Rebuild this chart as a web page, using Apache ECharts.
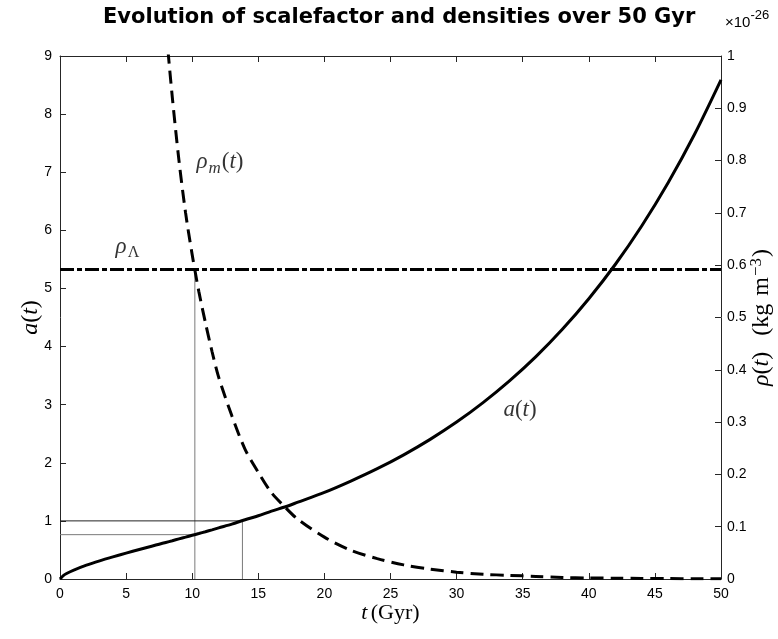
<!DOCTYPE html>
<html>
<head>
<meta charset="utf-8">
<script src="https://cdn.jsdelivr.net/npm/echarts@6/dist/echarts.min.js"></script>
<style>html,body{margin:0;padding:0;background:#fff}#c{width:778px;height:639px}</style>
</head>
<body>
<div id="c"></div>
<script>
// time samples (Gyr)
var tGyr = [0,0.25,0.5,1,2,3,4,5,6,7,7.5,8,8.5,9,9.5,10,10.5,11,11.5,12,13,14,15,16,17,18,20,22,24,26,28,30,32,34,36,38,40,42,44,46,48,50];
// scale factor a(t)
var scaleA = [0,0.059,0.094,0.149,0.238,0.313,0.381,0.446,0.508,0.569,0.599,0.629,0.659,0.690,0.721,0.752,0.782,0.813,0.846,0.880,0.945,1.020,1.088,1.169,1.239,1.322,1.490,1.685,1.898,2.137,2.403,2.700,3.035,3.409,3.826,4.296,4.823,5.412,6.075,6.820,7.654,8.590];
// matter density rho_m(t) in 1e-26 kg m^-3 (null where off the chart)
var rhoM = [null,null,null,null,null,null,null,null,null,
  1.43,1.23,1.06,0.92,0.80,0.70,0.62,0.55,0.49,0.435,0.386,0.312,0.248,0.204,0.165,0.138,0.114,0.080,0.055,0.039,0.027,0.019,0.013,0.009,0.007,0.005,0.003,0.002,0.0015,0.0011,0.0008,0.0006,0.0004];
// dark energy density (constant)
var rhoLambda = 0.592;
// guide marks
var tEqual = 10.2, aEqual = 0.763;
var tNow = 13.8, aNow = 1.0;
// tick labels
var xTicks = [0,5,10,15,20,25,30,35,40,45,50];
var leftTicks = [0,1,2,3,4,5,6,7,8,9];
var rightTicks = ['0','0.1','0.2','0.3','0.4','0.5','0.6','0.7','0.8','0.9','1'];
// in-plot labels (data coordinates on left axis)
var notes = [
  {name: 'rhoL', t: 5.1, y: 5.72},
  {name: 'rhoM', t: 12.1, y: 7.17},
  {name: 'a', t: 34.8, y: 2.91}
];

var aData = tGyr.map(function(t,i){return [t, scaleA[i]];});
var mData = tGyr.map(function(t,i){return [t, rhoM[i]];}).filter(function(p){return p[1]!==null;});
var lData = [[xTicks[0], rhoLambda],[xTicks[xTicks.length-1], rhoLambda]];

var serif = "'Liberation Serif', 'DejaVu Serif', serif";
var sans = "'Liberation Sans Narrow', 'Liberation Sans', Arial, sans-serif";
var axisCol = '#262626';

var noteRich = {
  it: {fontFamily: serif, fontStyle: 'italic', fontSize: 23, color: '#000'},
  rm: {fontFamily: serif, fontSize: 23, color: '#000'},
  sub: {fontFamily: serif, fontStyle: 'italic', fontSize: 17, color: '#000', padding: [12,1,0,1]},
  subr: {fontFamily: serif, fontSize: 16, color: '#000', padding: [12,0,0,1]}
};
var noteText = {
  rhoL: '{it|ρ}{subr|Λ}',
  rhoM: '{it|ρ}{sub|m}{rm|(}{it|t}{rm|)}',
  a: '{it|a}{rm|(}{it|t}{rm|)}'
};

var chart = echarts.init(document.getElementById('c'));
chart.setOption({
  animation: false,
  backgroundColor: '#fff',
  title: [{
    text: 'Evolution of scalefactor and densities over 50 Gyr',
    left: 98, top: 2,
    textStyle: {fontFamily: "'DejaVu Sans', sans-serif", fontWeight: 'bold', fontSize: 21, color: '#000'}
  },{
    text: '{a|×10}{s|-26}',
    left: 720, top: 2,
    textStyle: {fontWeight: 'normal', rich: {
      a: {fontFamily: sans, fontWeight: 'normal', fontSize: 15, color: '#000', padding: [8,0,0,0]},
      s: {fontFamily: sans, fontWeight: 'normal', fontSize: 13, color: '#000', padding: [0,0,6,0]}
    }}
  }],
  grid: {left: 60, right: 57, top: 56, bottom: 60, containLabel: false, outerBoundsMode: 'none'},
  xAxis: [{
    type: 'value', min: 0, max: 50, interval: 5, position: 'bottom',
    axisLine: {show: true, onZero: false, lineStyle: {color: axisCol, width: 1}},
    axisTick: {show: true, inside: true, length: 6, lineStyle: {color: axisCol}},
    axisLabel: {color: '#000', fontFamily: sans, fontSize: 14, margin: 8},
    splitLine: {show: false},
    name: '{i|t} {r|(Gyr)}', nameLocation: 'middle', nameGap: 23, nameMoveOverlap: false,
    nameTextStyle: {rich: {
      i: {fontFamily: serif, fontStyle: 'italic', fontSize: 22, color: '#000'},
      r: {fontFamily: serif, fontSize: 22, color: '#000'}
    }}
  },{
    type: 'value', min: 0, max: 50, interval: 5, position: 'top',
    axisLine: {show: true, onZero: false, lineStyle: {color: axisCol, width: 1}},
    axisTick: {show: true, inside: true, length: 6, lineStyle: {color: axisCol}},
    axisLabel: {show: false}, splitLine: {show: false}
  }],
  yAxis: [{
    type: 'value', min: 0, max: 9, interval: 1, position: 'left',
    axisLine: {show: true, onZero: false, lineStyle: {color: axisCol, width: 1}},
    axisTick: {show: true, inside: true, length: 6, lineStyle: {color: axisCol}},
    axisLabel: {color: '#000', fontFamily: sans, fontSize: 14, margin: 8,
      formatter: function(v){return String(leftTicks[Math.round(v)]);}},
    splitLine: {show: false},
    name: '{i|a}{r|(}{i|t}{r|)}', nameLocation: 'middle', nameGap: 17, nameRotate: 90, nameMoveOverlap: false,
    nameTextStyle: {rich: {
      i: {fontFamily: serif, fontStyle: 'italic', fontSize: 24, color: '#000'},
      r: {fontFamily: serif, fontSize: 24, color: '#000'}
    }}
  },{
    type: 'value', min: 0, max: 1, interval: 0.1, position: 'right',
    axisLine: {show: true, onZero: false, lineStyle: {color: axisCol, width: 1}},
    axisTick: {show: true, inside: true, length: 6, lineStyle: {color: axisCol}},
    axisLabel: {color: '#000', fontFamily: sans, fontSize: 14, margin: 6,
      formatter: function(v){return rightTicks[Math.round(v*10)];}},
    splitLine: {show: false},
    name: '{i|ρ}{r|(}{i|t}{r|)}{g|}{r|(kg}{h|}{r|m}{s|−3}{r|)}', nameLocation: 'middle', nameGap: 27, nameRotate: 90, nameMoveOverlap: false,
    nameTextStyle: {rich: {
      i: {fontFamily: serif, fontStyle: 'italic', fontSize: 24, color: '#000'},
      r: {fontFamily: serif, fontSize: 24, color: '#000'},
      g: {width: 16},
      h: {width: 8},
      s: {fontFamily: serif, fontSize: 17, color: '#000', padding: [0,1,10,1]}
    }}
  }],
  series: [
    {type: 'line', name: 'h1', xAxisIndex: 0, yAxisIndex: 0, data: [[0,aEqual],[tEqual,aEqual]],
      showSymbol: false, symbol: 'none', lineStyle: {color: '#7a7a7a', width: 1}, z: 1},
    {type: 'line', name: 'v1', xAxisIndex: 0, yAxisIndex: 1, data: [[tEqual,0],[tEqual,rhoLambda]],
      showSymbol: false, symbol: 'none', lineStyle: {color: '#7a7a7a', width: 1}, z: 1},
    {type: 'line', name: 'h2', xAxisIndex: 0, yAxisIndex: 0, data: [[0,aNow],[tNow,aNow]],
      showSymbol: false, symbol: 'none', lineStyle: {color: '#222', width: 1}, z: 1},
    {type: 'line', name: 'v2', xAxisIndex: 0, yAxisIndex: 0, data: [[tNow,aNow],[tNow,0]],
      showSymbol: false, symbol: 'none', lineStyle: {color: '#7a7a7a', width: 1}, z: 1},
    {type: 'line', name: 'a', xAxisIndex: 0, yAxisIndex: 0, data: aData, smooth: 0.3,
      showSymbol: false, symbol: 'none', lineStyle: {color: '#000', width: 3}, z: 3},
    {type: 'line', name: 'rhoM', xAxisIndex: 0, yAxisIndex: 1, data: mData, smooth: 0.3,
      showSymbol: false, symbol: 'none', clip: true, lineStyle: {color: '#000', width: 3, type: [13,7]}, z: 3},
    {type: 'line', name: 'rhoL', xAxisIndex: 0, yAxisIndex: 1, data: lData,
      showSymbol: false, symbol: 'none', lineStyle: {color: '#000', width: 3, type: [14,3,5,3]}, z: 3},
    {type: 'scatter', name: 'notes', xAxisIndex: 0, yAxisIndex: 0, symbolSize: 0, silent: true,
      data: notes.map(function(n){return {value: [n.t, n.y], name: n.name};}),
      label: {show: true, position: 'inside', rich: noteRich,
        formatter: function(p){return noteText[p.name];}}, z: 5}
  ]
});
</script>
</body>
</html>
